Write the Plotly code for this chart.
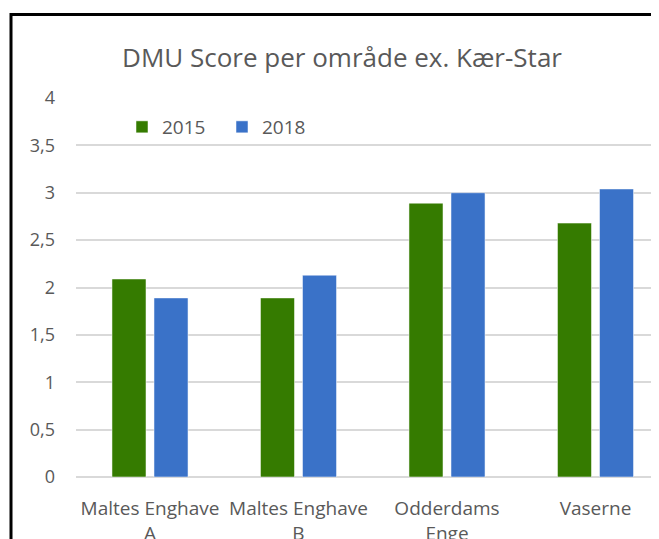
import plotly.graph_objects as go

categories = ["Maltes Enghave<br>A", "Maltes Enghave<br>B", "Odderdams<br>Enge", "Vaserne"]
values_2015 = [2.09, 1.89, 2.89, 2.68]
values_2018 = [1.89, 2.13, 3.00, 3.04]
tick_vals = [0, 0.5, 1, 1.5, 2, 2.5, 3, 3.5, 4]
tick_text = ["0", "0,5", "1", "1,5", "2", "2,5", "3", "3,5", "4"]

FONT = "Open Sans"
GREY = "#595959"

fig = go.Figure()
fig.add_trace(go.Bar(
    name="2015", x=categories, y=values_2015,
    marker=dict(color="#357b00", line=dict(color="rgba(255,255,255,0.5)", width=1)),
))
fig.add_trace(go.Bar(
    name="2018", x=categories, y=values_2018,
    marker=dict(color="#3a72c8", line=dict(color="rgba(255,255,255,0.5)", width=1)),
))

# page body has an 8px margin; work in screen coordinates minus OFF
OFF = 8
W, H = 659, 539
PLOT_LEFT, PLOT_TOP, PLOT_BOTTOM = 76 - OFF, 98 - OFF, 477 - OFF
L, T, B = PLOT_LEFT, PLOT_TOP, H - PLOT_BOTTOM
plot_w = W - L
plot_h = H - T - B
SPACING = 148.5  # px per category
x0 = -(150 - 76) / SPACING
x1 = x0 + plot_w / SPACING

def px_x(px):  # screen px -> paper
    return (px - OFF - L) / plot_w

def px_y(py):
    return (PLOT_BOTTOM - (py - OFF)) / plot_h

fig.update_layout(
    width=W, height=H,
    margin=dict(l=L, r=0, t=T, b=B),
    paper_bgcolor="white", plot_bgcolor="white",
    barmode="group", bargap=0.434, bargroupgap=0.19,
    font=dict(family=FONT, color=GREY, size=17),
    title=dict(text="DMU Score per område ex. Kær-Star", x=(342 - OFF) / W, xanchor="center",
               y=1 - (58 - OFF) / H, yanchor="middle", xref="container", yref="container",
               font=dict(family=FONT, size=26, color=GREY)),
    legend=dict(orientation="h", x=px_x(122), xanchor="left", y=px_y(127), yanchor="middle",
                font=dict(family=FONT, size=19, color=GREY), bgcolor="rgba(0,0,0,0)",
                entrywidth=55, entrywidthmode="pixels", traceorder="normal"),
    showlegend=True,
    xaxis=dict(range=[x0, x1], showgrid=False, showline=False, zeroline=False,
               ticks="", ticklabelstandoff=18, tickfont=dict(size=19, color=GREY)),
    yaxis=dict(range=[0, 4], tickvals=tick_vals, ticktext=tick_text, showgrid=True,
               gridcolor="#d9d9d9", gridwidth=1.5, zeroline=True, zerolinecolor="#d9d9d9",
               zerolinewidth=1.5, showline=False, ticks="", ticklabelstandoff=20,
               tickfont=dict(size=18, color=GREY)),
    shapes=[dict(type="rect", xref="paper", yref="paper",
                 x0=px_x(11), x1=px_x(W + 30), y0=px_y(H + 30), y1=px_y(14.5),
                 line=dict(color="black", width=3), fillcolor="rgba(0,0,0,0)", layer="above")],
)

fig.write_html("out.html")
